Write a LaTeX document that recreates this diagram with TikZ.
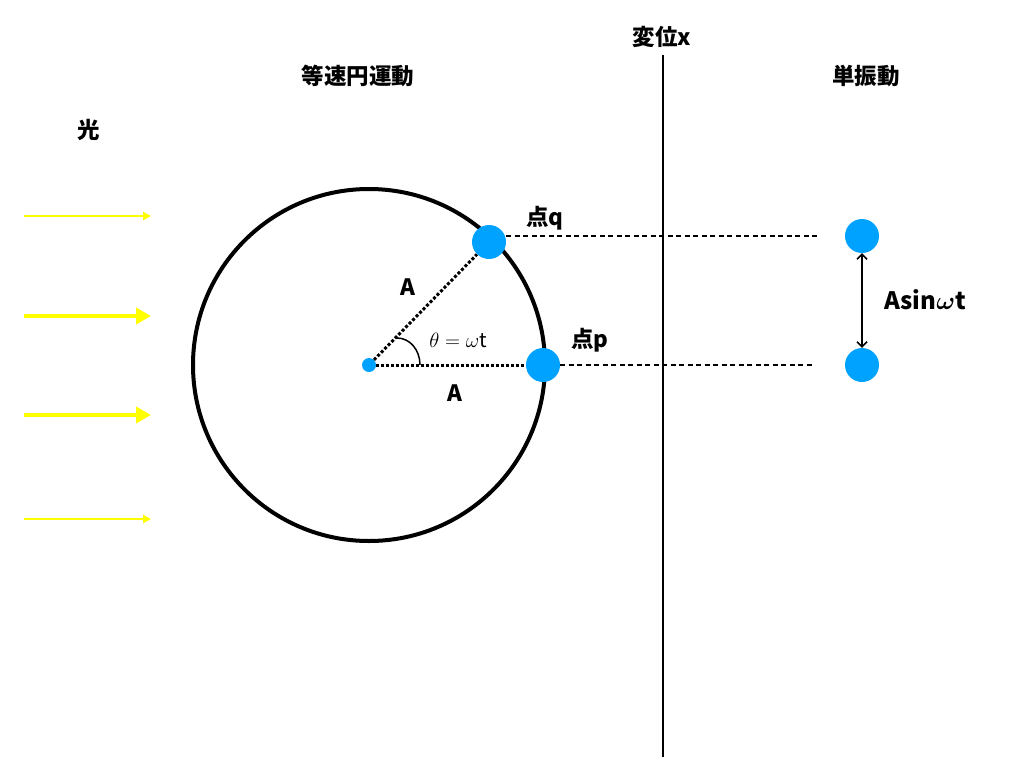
\documentclass[tikz,border=0pt]{standalone}
\usepackage{fontspec}
\newfontfamily\jp{Noto Sans CJK JP}
\usetikzlibrary{arrows.meta}
\definecolor{ballblue}{RGB}{0,162,255}
\definecolor{lightyellow}{RGB}{255,255,0}

\begin{document}
\begin{tikzpicture}[x=1pt,y=-1pt]
    \tikzstyle{ball}=[circle,fill=ballblue,inner sep=0pt,minimum size=34pt]
    \tikzstyle{lbl}=[inner sep=0pt,font=\jp\bfseries\fontsize{22.5}{26}\selectfont]
    \tikzstyle{thinray}=[lightyellow,line width=2pt,-{Triangle[length=8pt,width=8pt]}]
    \tikzstyle{thickray}=[lightyellow,line width=4pt,-{Triangle[length=15pt,width=16pt]}]
    \useasboundingbox (0,0) rectangle (1024,768);
    % circle of the uniform motion
    \coordinate (c) at (369,365);
    \draw [line width=4pt] (c) circle (176);
    \node (o) at (369,365) [circle,fill=ballblue,inner sep=0pt,minimum size=14pt] {};
    \node (q) at (489,242) [ball] {};
    \node (p) at (543,365) [ball] {};
    \node (qr) at (862,236) [ball] {};
    \node (pr) at (862,365) [ball] {};
    % axis
    \coordinate (axtop) at (663,55);
    \coordinate (axbot) at (663,757);
    \draw [line width=2pt] (axtop) -- (axbot);
    % labels
    \node (xlbl) at (662,37) [lbl] {変位x};
    \node (ucm) at (358,76) [lbl] {等速円運動};
    \node (shm) at (866,76) [lbl] {単振動};
    \node (light) at (89,130) [lbl] {光};
    \node (qlbl) at (545,218) [lbl] {点q};
    \node (plbl) at (590,340) [lbl] {点p};
    \node (a1) at (408,287) [lbl] {A};
    \node (a2) at (455,393) [lbl] {A};
    \node (theta) at (458,340) [inner sep=0pt,font=\jp\fontsize{20}{22}\selectfont] {$\theta=\omega$t};
    \node (amp) at (925,300) [lbl,font=\jp\bfseries\fontsize{24}{28}\selectfont] {Asin{\boldmath$\omega$}t};
    % light rays
    \coordinate (r1s) at (24,216);  \coordinate (r1e) at (151,216);
    \coordinate (r2s) at (24,316);  \coordinate (r2e) at (151,316);
    \coordinate (r3s) at (24,415);  \coordinate (r3e) at (151,415);
    \coordinate (r4s) at (24,519);  \coordinate (r4e) at (151,519);
    \draw [thinray] (r1s) -- (r1e);
    \draw [thickray] (r2s) -- (r2e);
    \draw [thickray] (r3s) -- (r3e);
    \draw [thinray] (r4s) -- (r4e);
    % radii and projections
    \draw [line width=3pt,dotted] (o) -- (q);
    \draw [line width=3pt,dotted] (o) -- (p);
    \draw [line width=2pt,dash pattern=on 5pt off 3.5pt] (q.east |- qr.west) -- (qr.west) [shorten >=27pt];
    \draw [line width=2.5pt,dash pattern=on 5pt off 3.5pt,shorten >=33pt] (p.east) -- (pr.west);
    \draw [line width=1.5pt] (397,338) .. controls (410,338) and (420,350) .. (420,365);
    \draw [line width=1.5pt,{Straight Barb[length=5pt,width=10pt]}-{Straight Barb[length=5pt,width=10pt]}] (qr) -- (pr);
\end{tikzpicture}
\end{document}
